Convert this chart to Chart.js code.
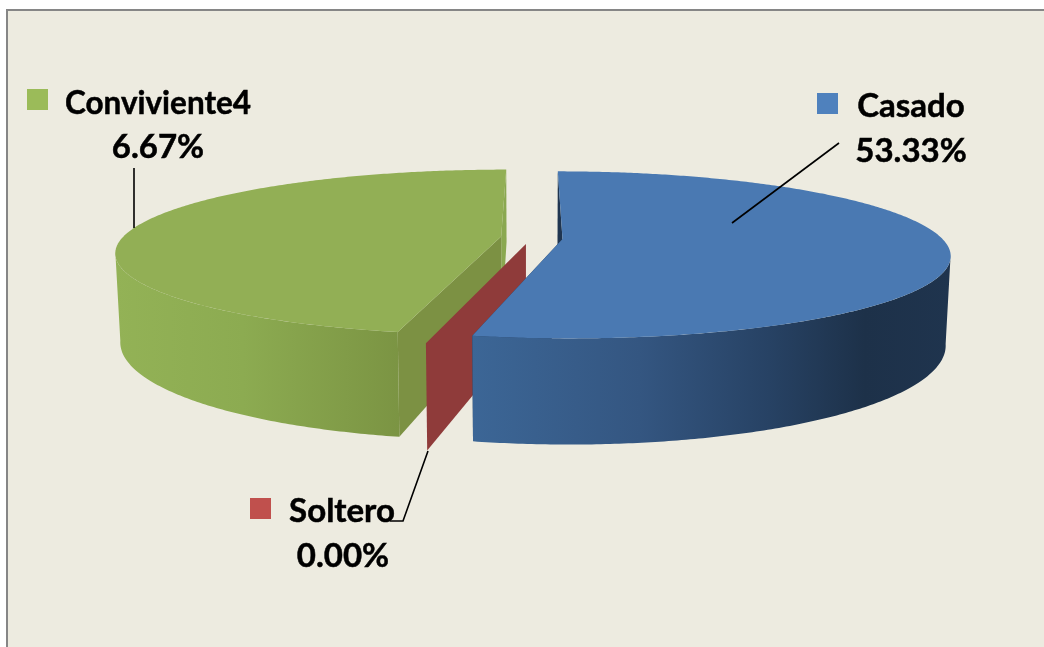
<!DOCTYPE html>
<html>
<head>
<meta charset="utf-8">
<style>html,body{margin:0;padding:0;background:#fff}canvas{display:block}</style>
<script src="https://cdn.jsdelivr.net/npm/chart.js@4"></script>
</head>
<body>
<canvas id="c" width="1044" height="647"></canvas>
<script>
const categories = ['Casado', 'Soltero', 'Conviviente'];
const values = [53.33, 0, 46.67];
const labelNames = ['Casado', 'Soltero', 'Conviviente4'];
const labelValues = ['53.33%', '0.00%', '6.67%'];

// Projection of the exploded pie
const view = {cx: 533, cy: 239, R: 380, kR: 80.5, p: 0.19, depth: 86, zShrink: 0.012, tangent: 0.19};
const explode = [{u: 29.5 / 380, v: 0}, {u: -7 / 380, v: 5 / 80.5}, {u: -32 / 380, v: -2.5 / 80.5}];
const topColors = ['#4a79b2', '#8f3b3a', '#92af55'];
const cutColors = [['#1f3550', '#1f3550'], ['#8f3b3a', '#8f3b3a'], ['#8aa850', '#7c9143']];
const swatchColors = ['#4f81bd', '#c0504d', '#9bbb59'];
const leaders = [
  [[839, 143], [732, 223]],
  [[390, 521], [403, 521], [428, 451]],
  [[134, 168], [134, 228]]
];
const labelBoxes = [
  {sx: 817, sy: 93, nameX: 911, nameY: 117, valX: 911, valY: 162, w: 110},
  {sx: 250, sy: 498, nameX: 342, nameY: 522, valX: 343, valY: 567, w: 108},
  {sx: 27, sy: 89, nameX: 158, nameY: 114, valX: 158, valY: 158, w: 186}
];

function pt(e, a, z) {
  const u = e.u + (a === null ? 0 : Math.cos(a));
  const v = e.v + (a === null ? 0 : Math.sin(a));
  const s = 1 / (1 - view.p * v);
  return [view.cx + view.R * u * s * (1 - view.zShrink * z), view.cy + view.kR * v * s + view.depth * z * s];
}
function path(ctx, pts) {
  ctx.beginPath();
  pts.forEach((p, i) => i ? ctx.lineTo(p[0], p[1]) : ctx.moveTo(p[0], p[1]));
  ctx.closePath();
}
function samples(a0, a1) {
  const n = Math.max(1, Math.ceil(Math.abs(a1 - a0) / 0.01)), out = [];
  for (let i = 0; i <= n; i++) out.push(a0 + (a1 - a0) * i / n);
  return out;
}
function cut(ctx, e, a, color) {
  path(ctx, [pt(e, null, 0), pt(e, a, 0), pt(e, a, 1), pt(e, null, 1)]);
  ctx.fillStyle = color;
  ctx.fill();
}
function wallGradient(ctx, i) {
  if (i === 0) {
    const g = ctx.createLinearGradient(472, 0, 951, 0);
    g.addColorStop(0, '#3c6696');
    g.addColorStop(0.35, '#345681');
    g.addColorStop(0.62, '#274264');
    g.addColorStop(0.82, '#1d3149');
    g.addColorStop(1, '#1f344e');
    return g;
  }
  const g = ctx.createLinearGradient(115, 0, 400, 0);
  g.addColorStop(0, '#93b256');
  g.addColorStop(0.45, '#8cab51');
  g.addColorStop(1, '#7b9443');
  return g;
}
function drawSlice(ctx, el, i) {
  const e = explode[i], a0 = el.startAngle, a1 = el.endAngle;
  if (a1 - a0 < 1e-6) { cut(ctx, e, a0, topColors[i]); return; }
  const isRight = a0 < 0;
  cut(ctx, e, isRight ? a0 : a1, cutColors[i][0]);
  cut(ctx, e, isRight ? a1 : a0, cutColors[i][1]);
  // outer wall: only the part that faces the viewer, up to the silhouette
  const wa0 = isRight ? view.tangent : a0;
  const wa1 = isRight ? a1 : Math.PI - view.tangent;
  const ws = samples(wa0, wa1);
  path(ctx, ws.map(a => pt(e, a, 0)).concat(ws.slice().reverse().map(a => pt(e, a, 1))));
  ctx.fillStyle = wallGradient(ctx, i);
  ctx.fill();
  const as = samples(a0, a1);
  path(ctx, [pt(e, null, 0)].concat(as.map(a => pt(e, a, 0))));
  ctx.fillStyle = topColors[i];
  ctx.fill();
}

const pie3d = {
  id: 'pie3d',
  beforeDraw(chart) {
    const ctx = chart.ctx;
    ctx.save();
    ctx.fillStyle = '#ffffff';
    ctx.fillRect(0, 0, 1044, 647);
    ctx.fillStyle = '#edebe0';
    ctx.fillRect(7, 10, 1037, 637);
    ctx.strokeStyle = '#868686';
    ctx.lineWidth = 2;
    ctx.beginPath();
    ctx.moveTo(7, 647);
    ctx.lineTo(7, 10);
    ctx.lineTo(1044, 10);
    ctx.stroke();
    ctx.restore();
  },
  beforeDatasetDraw(chart, args) {
    const ctx = chart.ctx, data = chart.getDatasetMeta(args.index).data;
    ctx.save();
    for (let i = data.length - 1; i >= 0; i--) drawSlice(ctx, data[i], i);
    ctx.restore();
    return false;
  },
  afterDatasetsDraw(chart) {
    const ctx = chart.ctx;
    ctx.save();
    ctx.font = 'bold 33px Lato';
    ctx.textAlign = 'center';
    ctx.textBaseline = 'alphabetic';
    ctx.strokeStyle = '#000';
    ctx.lineWidth = 0.5;
    labelBoxes.forEach((b, i) => {
      ctx.fillStyle = swatchColors[i];
      ctx.fillRect(b.sx, b.sy, 21, 21);
      ctx.fillStyle = '#000';
      ctx.fillText(labelNames[i], b.nameX, b.nameY, b.w);
      ctx.strokeText(labelNames[i], b.nameX, b.nameY, b.w);
      ctx.fillText(labelValues[i], b.valX, b.valY);
      ctx.strokeText(labelValues[i], b.valX, b.valY);
    });
    ctx.lineWidth = 1.6;
    leaders.forEach(l => {
      ctx.beginPath();
      l.forEach((p, j) => j ? ctx.lineTo(p[0], p[1]) : ctx.moveTo(p[0], p[1]));
      ctx.stroke();
    });
    ctx.restore();
  }
};

new Chart(document.getElementById('c'), {
  type: 'pie',
  data: {labels: categories, datasets: [{data: values, backgroundColor: swatchColors, borderWidth: 0}]},
  options: {
    responsive: false,
    animation: false,
    rotation: 0,
    plugins: {legend: {display: false}, tooltip: {enabled: false}}
  },
  plugins: [pie3d]
});
</script>
</body>
</html>
